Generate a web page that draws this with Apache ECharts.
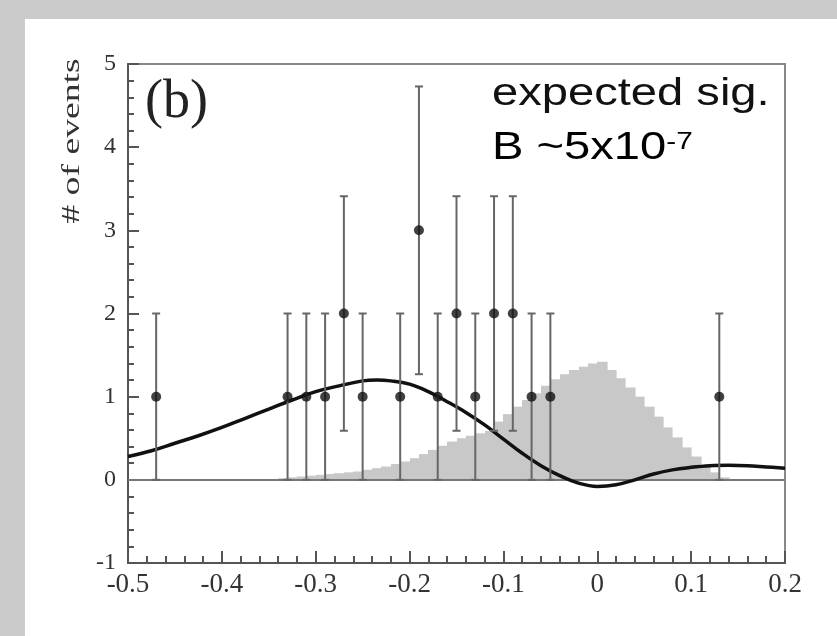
<!DOCTYPE html>
<html>
<head>
<meta charset="utf-8">
<script src="https://cdn.jsdelivr.net/npm/echarts/dist/echarts.min.js"></script>
<style>
  html, body { margin: 0; padding: 0; }
  #page_b { width: 837px; height: 636px; }
</style>
</head>
<body>
<div id="page_b"></div>
<script>
// data points (number of events) with their error bars
var pointX = [-0.47, -0.33, -0.31, -0.29, -0.27, -0.25, -0.21, -0.19, -0.17, -0.15, -0.13, -0.11, -0.09, -0.07, -0.05, 0.13];
var pointN = [1, 1, 1, 1, 2, 1, 1, 3, 1, 2, 1, 2, 2, 1, 1, 1];
var errLow = [0, 0, 0, 0, 0.59, 0, 0, 1.27, 0, 0.59, 0, 0.59, 0.59, 0, 0, 0];
var errHigh = [2, 2, 2, 2, 3.41, 2, 2, 4.73, 2, 3.41, 2, 3.41, 3.41, 2, 2, 2];

// expected signal histogram (bin centres, heights)
var binW = 0.01;
var histX = [-0.345, -0.335, -0.325, -0.315, -0.305, -0.295, -0.285, -0.275, -0.265, -0.255,
             -0.245, -0.235, -0.225, -0.215, -0.205, -0.195, -0.185, -0.175, -0.165, -0.155,
             -0.145, -0.135, -0.125, -0.115, -0.105, -0.095, -0.085, -0.075, -0.065, -0.055,
             -0.045, -0.035, -0.025, -0.015, -0.005, 0.005, 0.015, 0.025, 0.035, 0.045,
             0.055, 0.065, 0.075, 0.085, 0.095, 0.105, 0.115, 0.125, 0.135];
var histH = [0.01, 0.02, 0.03, 0.04, 0.05, 0.06, 0.07, 0.08, 0.09, 0.10,
             0.12, 0.14, 0.16, 0.19, 0.22, 0.26, 0.31, 0.36, 0.41, 0.46,
             0.50, 0.53, 0.56, 0.59, 0.70, 0.79, 0.88, 0.96, 1.04, 1.13,
             1.21, 1.27, 1.32, 1.36, 1.40, 1.42, 1.32, 1.22, 1.11, 1.00,
             0.88, 0.76, 0.63, 0.51, 0.39, 0.28, 0.18, 0.09, 0.03];

// fit curve
var curveX = [-0.50, -0.475, -0.45, -0.425, -0.40, -0.375, -0.35, -0.325, -0.30, -0.275,
              -0.25, -0.235, -0.22, -0.20, -0.18, -0.16, -0.14, -0.12, -0.10, -0.08,
              -0.06, -0.04, -0.02, 0.00, 0.02, 0.04, 0.06, 0.08, 0.10, 0.12,
              0.14, 0.16, 0.18, 0.20];
var curveY = [0.28, 0.35, 0.44, 0.53, 0.63, 0.74, 0.85, 0.96, 1.06, 1.13,
              1.19, 1.20, 1.19, 1.15, 1.06, 0.94, 0.81, 0.66, 0.49, 0.32,
              0.17, 0.05, -0.04, -0.08, -0.06, 0.00, 0.07, 0.12, 0.15, 0.17,
              0.175, 0.17, 0.155, 0.14];

var xTicks = [-0.5, -0.4, -0.3, -0.2, -0.1, 0, 0.1, 0.2];
var yTicks = [-1, 0, 1, 2, 3, 4, 5];

var myChart = echarts.init(document.getElementById('page_b'));

var histData = histX.map(function (x, i) { return [x, histH[i]]; });
var errData = pointX.map(function (x, i) { return [x, errLow[i], errHigh[i]]; });
var pointData = pointX.map(function (x, i) { return [x, pointN[i]]; });
var curveData = curveX.map(function (x, i) { return [x, curveY[i]]; });

var axisColor = '#555';
var serif = '"Liberation Serif", "DejaVu Serif", serif';

var option = {
    animation: false,
    backgroundColor: '#cbcbcb',
    graphic: [
        { type: 'rect', z: -10, shape: { x: 25, y: 19, width: 812, height: 617 }, style: { fill: '#ffffff' } },
        {
            type: 'text', x: 72, y: 141, rotation: Math.PI / 2, scaleX: 1.45,
            style: { text: '# of events', font: '26px ' + serif, fill: '#333', align: 'center', verticalAlign: 'middle' }
        },
        {
            type: 'text', x: 145, y: 103, z: 10,
            style: { text: '(b)', font: '54px ' + serif, fill: '#222', align: 'left', verticalAlign: 'middle' }
        },
        {
            type: 'text', x: 492, y: 95, z: 10, scaleX: 1.24,
            style: { text: 'expected sig.', font: '38px "Liberation Sans", Arial, sans-serif', fill: '#111', verticalAlign: 'middle' }
        },
        {
            type: 'text', x: 492, y: 149, z: 10, scaleX: 1.24,
            style: {
                text: '{a|B ~5x10}{s|-7}',
                verticalAlign: 'middle',
                rich: {
                    a: { fontSize: 38, fontFamily: '"Liberation Sans", Arial, sans-serif', color: '#111' },
                    s: { fontSize: 24, fontFamily: '"Liberation Sans", Arial, sans-serif', color: '#111', verticalAlign: 'top' }
                }
            }
        }
    ],
    grid: {
        left: 128, right: 52, top: 64, bottom: 73,
        show: true, borderColor: '#888', borderWidth: 2, backgroundColor: 'transparent'
    },
    xAxis: {
        type: 'value', min: xTicks[0], max: xTicks[xTicks.length - 1], interval: 0.1,
        axisLine: { onZero: false, lineStyle: { color: axisColor, width: 2 } },
        axisTick: { inside: true, length: 12, lineStyle: { color: axisColor, width: 2 } },
        minorTick: { show: true, splitNumber: 5, length: 7, lineStyle: { color: axisColor, width: 2 } },
        splitLine: { show: false },
        axisLabel: {
            margin: 8, fontSize: 27, fontFamily: serif, color: '#333',
            formatter: function (v) { return String(Number(v.toFixed(1))); }
        }
    },
    yAxis: {
        type: 'value', min: yTicks[0], max: yTicks[yTicks.length - 1], interval: 1,
        axisLine: { onZero: false, lineStyle: { color: axisColor, width: 2 } },
        axisTick: { inside: true, length: 11, lineStyle: { color: axisColor, width: 2 } },
        minorTick: { show: true, splitNumber: 5, length: 6, lineStyle: { color: axisColor, width: 2 } },
        splitLine: { show: false },
        axisLabel: { margin: 12, fontSize: 24, fontFamily: serif, color: '#333' }
    },
    series: [{
        name: 'signal',
        type: 'custom',
        z: 1,
        data: histData,
        encode: { x: 0, y: 1 },
        renderItem: function (params, api) {
            var x = api.value(0), h = api.value(1);
            var p0 = api.coord([x - binW / 2, h]);
            var p1 = api.coord([x + binW / 2, 0]);
            var x0 = Math.round(p0[0]), x1 = Math.round(p1[0]);
            return {
                type: 'rect',
                shape: { x: x0, y: p0[1], width: x1 - x0 + 0.6, height: p1[1] - p0[1] },
                style: { fill: '#c8c8c8' }
            };
        }
    }, {
        name: 'fit',
        type: 'line',
        z: 3,
        smooth: 0.4,
        symbol: 'none',
        data: curveData,
        lineStyle: { color: '#111', width: 3.5 },
        markLine: {
            silent: true, symbol: 'none', z: 2,
            label: { show: false },
            lineStyle: { color: '#777', width: 2, type: 'solid' },
            data: [{ yAxis: 0 }]
        }
    }, {
        name: 'errors',
        type: 'custom',
        z: 4,
        data: errData,
        encode: { x: 0, y: [1, 2] },
        renderItem: function (params, api) {
            var x = api.value(0);
            var lo = api.coord([x, api.value(1)]);
            var hi = api.coord([x, api.value(2)]);
            var c = 4;
            var st = { stroke: '#666', lineWidth: 2 };
            return {
                type: 'group',
                children: [
                    { type: 'line', shape: { x1: lo[0], y1: lo[1], x2: hi[0], y2: hi[1] }, style: st },
                    { type: 'line', shape: { x1: hi[0] - c, y1: hi[1], x2: hi[0] + c, y2: hi[1] }, style: st },
                    { type: 'line', shape: { x1: lo[0] - c, y1: lo[1], x2: lo[0] + c, y2: lo[1] }, style: st }
                ]
            };
        }
    }, {
        name: 'data',
        type: 'scatter',
        z: 5,
        symbol: 'circle',
        symbolSize: 10,
        data: pointData,
        itemStyle: { color: '#111' }
    }]
};

myChart.setOption(option);
</script>
</body>
</html>
